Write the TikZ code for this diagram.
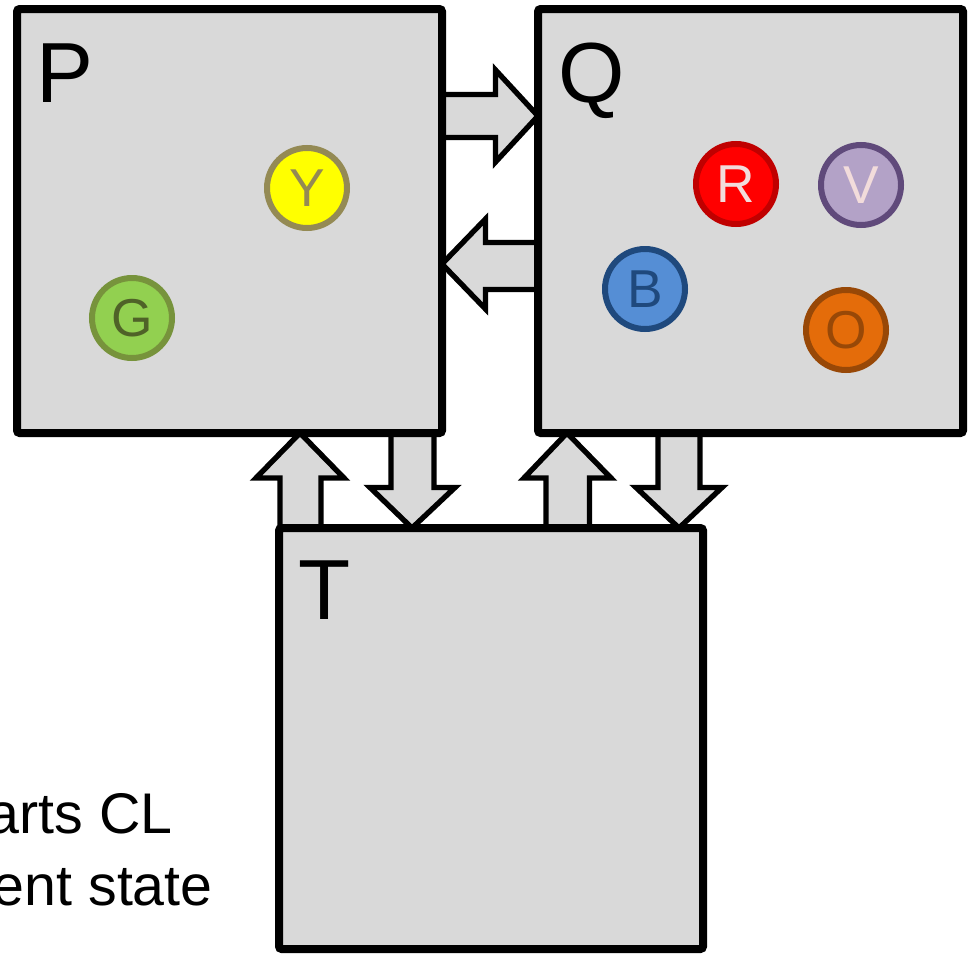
\documentclass[tikz,border=0pt]{standalone}
\usepackage{fontspec}
\setmainfont{Liberation Sans}
\pgfdeclarelayer{bg}
\pgfsetlayers{bg,main}
\definecolor{boxgray}{HTML}{D9D9D9}
\definecolor{yfill}{HTML}{FFFF00}\definecolor{ydraw}{HTML}{948A54}
\definecolor{gfill}{HTML}{92D050}\definecolor{gdraw}{HTML}{77933C}\definecolor{gtext}{HTML}{4F6228}
\definecolor{rfill}{HTML}{FF0000}\definecolor{rdraw}{HTML}{C00000}\definecolor{pinktext}{HTML}{F2DCDB}
\definecolor{vfill}{HTML}{B3A2C7}\definecolor{vdraw}{HTML}{604A7B}
\definecolor{bfill}{HTML}{558ED5}\definecolor{bdraw}{HTML}{1F497D}
\definecolor{ofill}{HTML}{E46C0A}\definecolor{odraw}{HTML}{984807}
\begin{document}
\begin{tikzpicture}[x=0.75pt,y=-0.75pt,
  bigbox/.style={draw=black,fill=boxgray,line width=6pt,rounded corners=2pt,inner sep=0pt,outer sep=0pt,minimum width=#1},
  blk/.style={draw=black,fill=boxgray,line width=4pt,line join=miter},
  ball/.style 2 args={circle,fill=#1,draw=#2,line width=4.5pt,minimum size=60pt,inner sep=0pt,font=\fontsize{40}{40}\selectfont},
  lbl/.style={anchor=base west,inner sep=0pt,font=\fontsize{64}{64}\selectfont},
  side/.style={anchor=base east,inner sep=0pt,font=\fontsize{43}{52}\selectfont}]
\useasboundingbox (0,0) rectangle (969,953);
\clip (0,0) rectangle (969,953);
% boxes
\node[bigbox=318.75pt,minimum height=318pt] (P) at (229.5,221) {};
\node[bigbox=318.75pt,minimum height=318pt] (Q) at (750.5,221) {};
\node[bigbox=318pt,minimum height=315.75pt] (T) at (491,738.5) {};
% labels
\node[lbl] (Plbl) at (36,102) {P};
\node[lbl] (Qlbl) at (558,102) {Q};
\node[lbl] (Tlbl) at (298,619) {T};
% block arrows
\begin{pgfonlayer}{bg}
\draw[blk] (P.east |- 0,94.5) -- (495.5,94.5) -- (495.5,70) -- (Q.west |- 0,116)
  -- (495.5,162) -- (495.5,137.5) -- (P.east |- 0,137.5) -- cycle;
\draw[blk] (Q.west |- 0,242.5) -- (485.5,242.5) -- (485.5,219) -- (P.east |- 0,264)
  -- (485.5,309) -- (485.5,289.5) -- (Q.west |- 0,289.5) -- cycle;
\draw[blk] (T.north -| 280,0) -- (280,478) -- (256,478) -- (P.south -| 300,0)
  -- (344,478) -- (321,478) -- (T.north -| 321,0) -- cycle;
\draw[blk] (P.south -| 391,0) -- (391,487.5) -- (370,487.5) -- (T.north -| 412,0)
  -- (455,487.5) -- (434,487.5) -- (P.south -| 434,0) -- cycle;
\draw[blk] (T.north -| 546,0) -- (546,478) -- (524,478) -- (Q.south -| 567,0)
  -- (611,478) -- (589.5,478) -- (T.north -| 589.5,0) -- cycle;
\draw[blk] (Q.south -| 658,0) -- (658,487.5) -- (636,487.5) -- (T.north -| 679,0)
  -- (722,487.5) -- (700,487.5) -- (Q.south -| 700,0) -- cycle;
\end{pgfonlayer}
% balls
\node[ball={yfill}{ydraw},text=ydraw] (Y) at (307,188) {Y};
\node[ball={gfill}{gdraw},text=gtext] (G) at (132,318) {G};
\node[ball={rfill}{rdraw},text=pinktext] (R) at (736,184) {R};
\node[ball={vfill}{vdraw},text=pinktext] (V) at (861,185) {V};
\node[ball={bfill}{bdraw},text=bdraw] (B) at (645,289) {B};
\node[ball={ofill}{odraw},text=odraw] (O) at (846,330) {O};
% side text (cut off at the left edge)
\node[side] (s1) at (173,833) {arts CL};
\node[side] (s2) at (213,905) {ent state};
\end{tikzpicture}
\end{document}
